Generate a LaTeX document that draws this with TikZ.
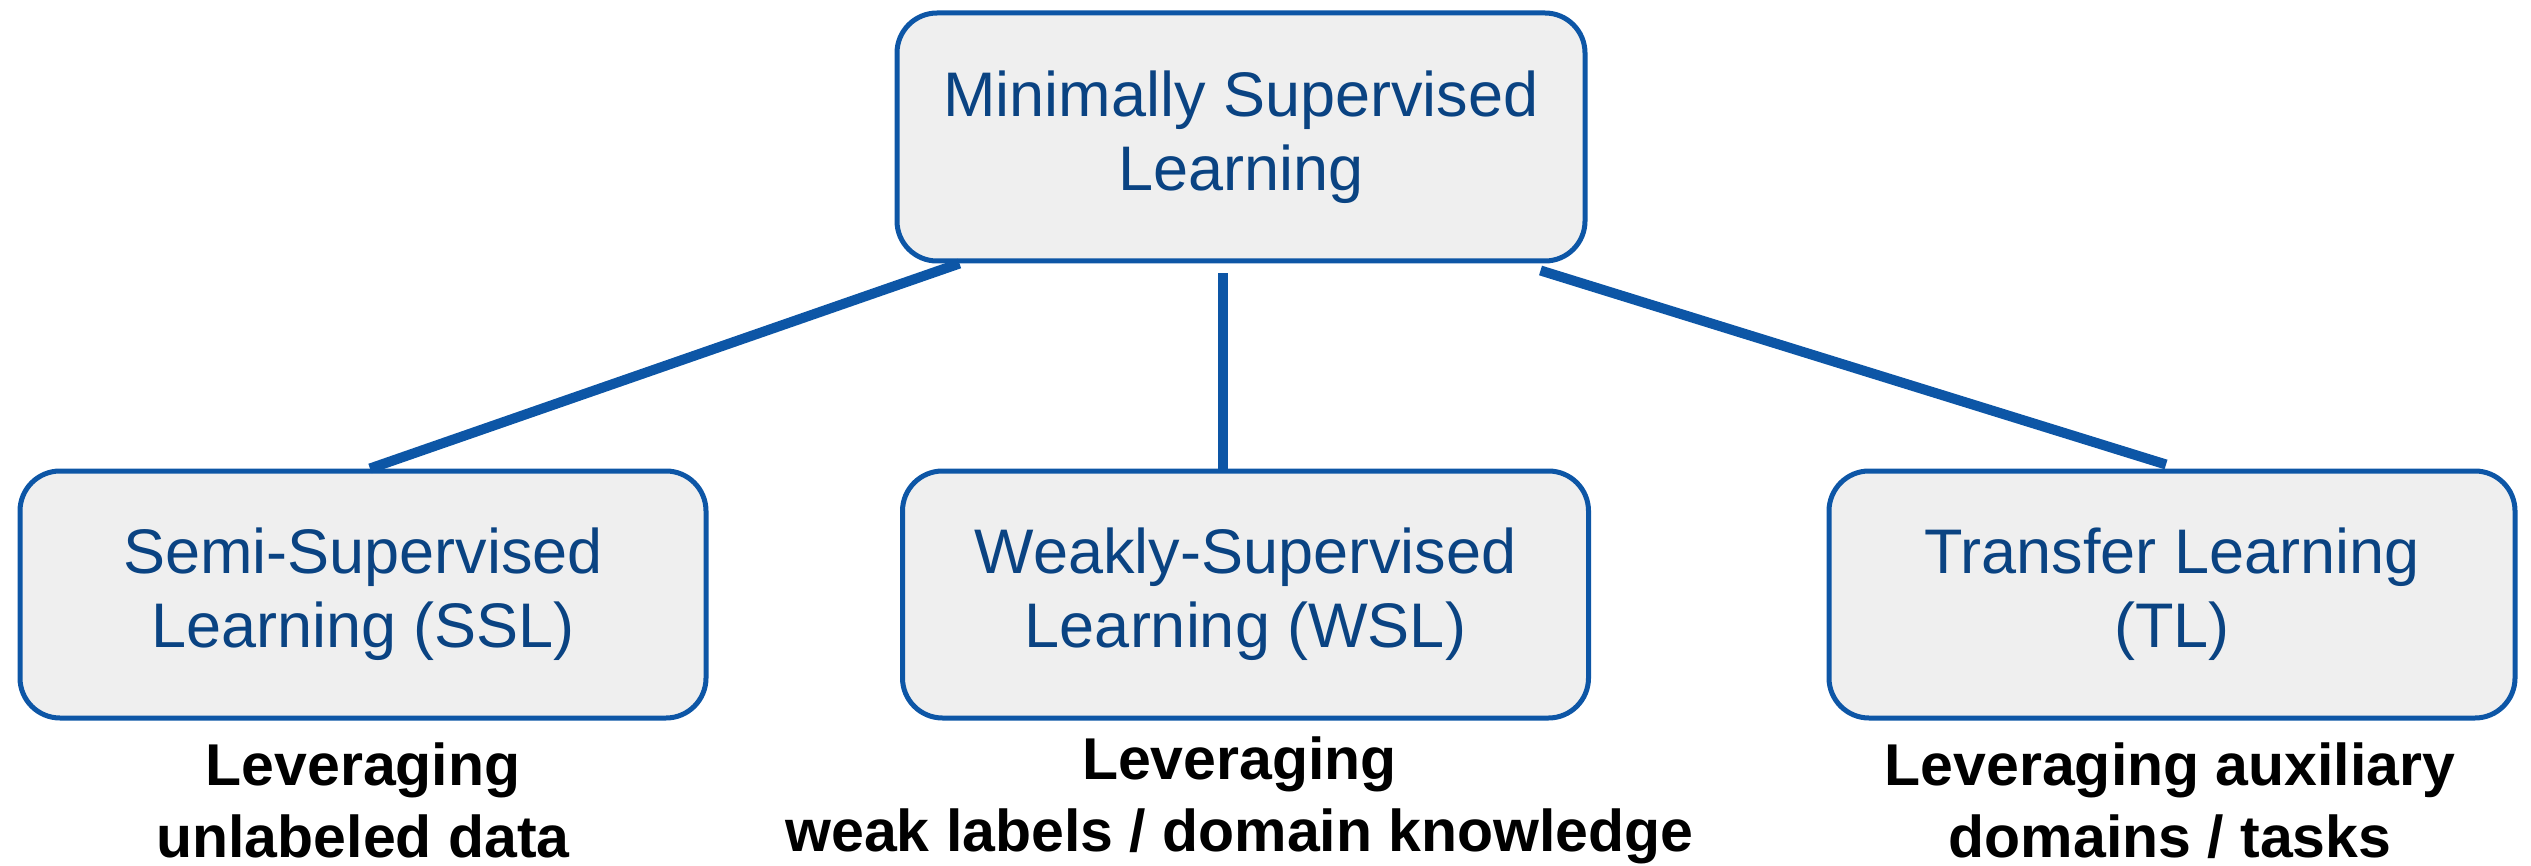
\documentclass[tikz,border=0pt]{standalone}
\usepackage{fontspec}
\setmainfont{Liberation Sans}
\usetikzlibrary{calc}
\definecolor{edgeblue}{HTML}{0D56A6}
\definecolor{textblue}{HTML}{0A4382}
\definecolor{boxfill}{HTML}{EFEFEF}
\begin{document}
\begin{tikzpicture}[x=0.5pt,y=-0.5pt,
  box/.style={draw=edgeblue, line width=2.5pt, fill=boxfill, rounded corners=20pt,
    inner sep=0pt, align=center, text=textblue,
    minimum width=343pt, minimum height=123.5pt,
    font=\fontsize{31.5}{37}\selectfont},
  note/.style={align=center, inner sep=0pt, text=black,
    font=\fontsize{29.5}{36}\selectfont\bfseries},
  link/.style={draw=edgeblue, line width=5pt}]
\useasboundingbox (0,0) rectangle (2531,866);

% root and the three branches
\node[box, minimum width=344pt, minimum height=124pt] (root) at (1241,137)
  {Minimally Supervised\\Learning};
\node[box] (ssl) at (363,594.5) {Semi-Supervised\\Learning (SSL)};
\node[box] (wsl) at (1245.5,594.5) {Weakly-Supervised\\Learning (WSL)};
\node[box] (tl)  at (2172,594.5) {Transfer Learning\\(TL)};

% captions under each branch
\node[note] (sslnote) at ($(ssl.south)+(0,80)$) {Leveraging\\unlabeled data};
\node[note] (wslnote) at ($(wsl.south)+(-6,80)$) {Leveraging\\weak labels / domain knowledge};
\node[note] (tlnote)  at ($(tl.south)+(-2,80)$) {Leveraging auxiliary\\domains / tasks};

% connectors
\coordinate (wsltop) at ($(wsl.north)+(-23,0)$);
\coordinate (rootgap) at ($(root.south)+(0,10)$);
\draw[link] ($(root.south west)+(65,0)$) -- ($(ssl.north)+(7,0)$);
\draw[link] (wsltop |- rootgap) -- (wsltop);
\draw[link] ($(root.south east)+(-47,7)$) -- ($(tl.north)+(-6,-4)$);
\end{tikzpicture}
\end{document}
